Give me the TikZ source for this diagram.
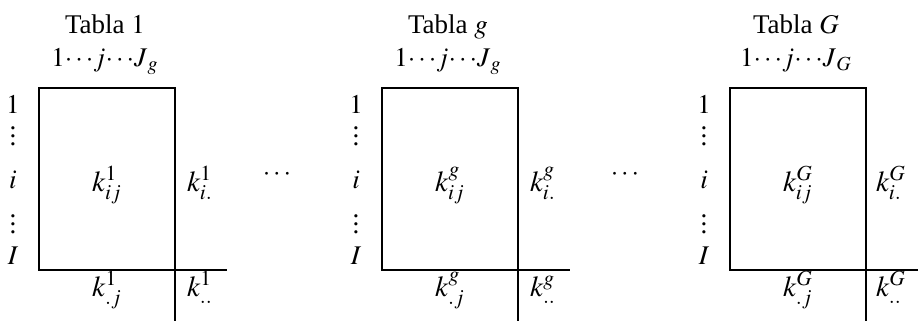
\documentclass[tikz,border=0pt]{standalone}
\usepackage{mathptmx}
\usepackage{fontspec}
\setmainfont{Liberation Serif}
\usetikzlibrary{calc}
\newcommand\rowdots{\vbox{\baselineskip4pt\lineskiplimit0pt\hbox{.}\hbox{.}\hbox{.}}}

\begin{document}
\begin{tikzpicture}[x=0.5pt,y=-0.5pt,
  tabline/.style={line width=0.65pt},
  lbl/.style={inner sep=0pt,anchor=base,font=\fontsize{13.5}{16}\selectfont},
  cell/.style={lbl,font=\fontsize{14.5}{17}\selectfont}]
  \useasboundingbox (0,0) rectangle (920,321);
  \foreach \xo/\tsup/\tsub/\n in {39/1/g/1, 382/g/g/2, 730/G/G/3} {
    \coordinate (nw\n) at (\xo,88);
    \coordinate (se\n) at (\xo+136,270);
    \draw[tabline] (nw\n) rectangle (se\n);
    \draw[tabline] (se\n) -- ++(52,0) coordinate (re\n);
    \draw[tabline] (se\n) -- ++(0,51) coordinate (be\n);
    \node[lbl] (title\n) at (\xo+66,33) {Tabla $\tsup$};
    \node[lbl] (cols\n) at (\xo+66,66) {$1\!\cdots\! j\!\cdots\! J_{\,\tsub}$};
    \node[lbl] (r1\n) at (\xo-26,113) {$1$};
    \node[lbl] (rd1\n) at (\xo-26,145) {\rowdots};
    \node[lbl] (ri\n) at (\xo-26,188) {$i$};
    \node[lbl] (rd2\n) at (\xo-26,233) {\rowdots};
    \node[lbl] (rI\n) at (\xo-26,264) {$I$};
    \node[cell] (kij\n) at (\xo+68,191) {$k_{ij}^{\tsup}$};
    \node[cell] (kio\n) at (\xo+161,191) {$k_{i.}^{\tsup}$};
    \node[cell] (koj\n) at (\xo+68,296) {$k_{.j}^{\tsup}$};
    \node[cell] (koo\n) at (\xo+161,296) {$k_{..}^{\tsup}$};
  }
  \node[lbl] (dots1) at (277,180) {$\cdots$};
  \node[lbl] (dots2) at (625,180) {$\cdots$};
\end{tikzpicture}
\end{document}
